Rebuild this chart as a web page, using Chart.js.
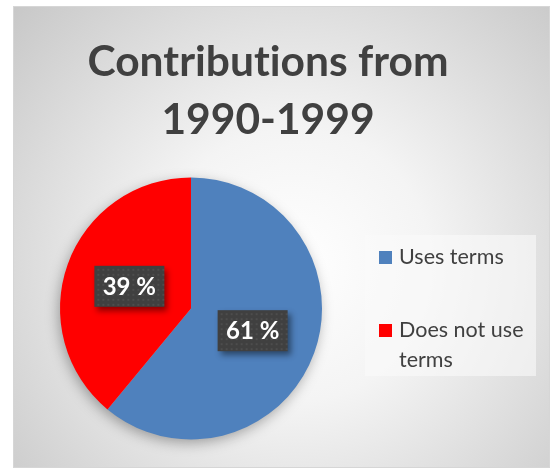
<!DOCTYPE html>
<html>
<head>
<meta charset="utf-8">
<script src="https://cdn.jsdelivr.net/npm/chart.js@4"></script>
<style>
  html, body { margin: 0; padding: 0; background: #fff; }
  #wrap { width: 550px; height: 470px; }
</style>
</head>
<body>
<div id="wrap"><canvas id="pie" width="550" height="470"></canvas></div>
<script>
const titleLines = ["Contributions from", "1990-1999"];
const categories = ["Uses terms", "Does not use terms"];
const legendLines = [["Uses terms"], ["Does not use", "terms"]];
const values = [61, 39];
const colors = ["#4F81BD", "#FF0000"];

const TEXT = "#404040";

// gray frame with a soft radial fill behind everything
const backdrop = {
  id: "backdrop",
  beforeDraw(chart) {
    const ctx = chart.ctx;
    ctx.save();
    ctx.fillStyle = "#fff";
    ctx.fillRect(0, 0, chart.width, chart.height);
    const g = ctx.createRadialGradient(295, 265, 0, 295, 265, 390);
    g.addColorStop(0, "#ffffff");
    g.addColorStop(0.35, "#f4f4f4");
    g.addColorStop(1, "#c6c6c6");
    ctx.fillStyle = g;
    ctx.fillRect(13, 6, 537, 462);
    ctx.strokeStyle = "#d6d6d6";
    ctx.lineWidth = 1;
    ctx.strokeRect(13.5, 6.5, 536, 461);
    // legend panel
    ctx.fillStyle = "rgba(250,250,250,0.6)";
    ctx.fillRect(365, 235, 171, 141);
    ctx.restore();
  }
};

// soft shadow under the pie
const pieShadow = {
  id: "pieShadow",
  beforeDatasetsDraw(chart) {
    const arc = chart.getDatasetMeta(0).data[0];
    if (!arc) return;
    const ctx = chart.ctx;
    ctx.save();
    ctx.shadowColor = "rgba(0,0,0,0.35)";
    ctx.shadowBlur = 14;
    ctx.shadowOffsetX = -2;
    ctx.shadowOffsetY = 4;
    ctx.fillStyle = "#bbb";
    ctx.beginPath();
    ctx.arc(arc.x, arc.y, arc.outerRadius - 1, 0, Math.PI * 2);
    ctx.fill();
    ctx.restore();
  }
};

// dark value boxes at each slice centre
const valueBoxes = {
  id: "valueBoxes",
  afterDatasetsDraw(chart) {
    const ctx = chart.ctx;
    const meta = chart.getDatasetMeta(0);
    meta.data.forEach((arc, i) => {
      const p = arc.getCenterPoint();
      const w = 70, h = 41;
      ctx.save();
      ctx.shadowColor = "rgba(0,0,0,0.45)";
      ctx.shadowBlur = 6;
      ctx.shadowOffsetX = 3;
      ctx.shadowOffsetY = 4;
      ctx.fillStyle = "#404040";
      ctx.fillRect(p.x - w / 2, p.y - h / 2, w, h);
      ctx.restore();
      // faint dot texture
      ctx.save();
      ctx.fillStyle = "rgba(255,255,255,0.07)";
      for (let yy = p.y - h / 2 + 3; yy < p.y + h / 2 - 1; yy += 5) {
        for (let xx = p.x - w / 2 + 3; xx < p.x + w / 2 - 1; xx += 5) {
          ctx.fillRect(xx, yy, 2, 2);
        }
      }
      ctx.fillStyle = "#fff";
      ctx.font = "bold 24px Lato";
      ctx.textAlign = "center";
      ctx.textBaseline = "middle";
      ctx.fillText(values[i] + " %", p.x, p.y + 1);
      ctx.restore();
    });
  }
};

// title and a wrapped legend on the right
const captions = {
  id: "captions",
  afterDraw(chart) {
    const ctx = chart.ctx;
    ctx.save();
    ctx.fillStyle = TEXT;
    ctx.textAlign = "center";
    ctx.textBaseline = "alphabetic";
    ctx.letterSpacing = "0.01px"; // keeps "ti" from joining into a ligature
    ctx.font = "bold 42.5px Lato";
    ctx.fillText(titleLines[0], 268, 76);
    ctx.fillText(titleLines[1], 268, 134);

    ctx.textAlign = "left";
    ctx.font = "21.5px Lato";
    const tops = [251, 324];
    legendLines.forEach((lines, i) => {
      const meta = chart.getDatasetMeta(0);
      ctx.fillStyle = meta.data[i].options.backgroundColor;
      ctx.fillRect(379, tops[i], 13, 13);
      ctx.fillStyle = TEXT;
      lines.forEach((t, k) => ctx.fillText(t, 399, tops[i] + 13 + k * 30));
    });
    ctx.restore();
  }
};

new Chart(document.getElementById("pie"), {
  type: "pie",
  data: {
    labels: categories,
    datasets: [{
      data: values,
      backgroundColor: colors,
      borderWidth: 0
    }]
  },
  options: {
    responsive: false,
    animation: false,
    layout: { padding: { left: 60, top: 177, right: 228, bottom: 30 } },
    plugins: {
      legend: { display: false },
      title: { display: false },
      tooltip: { enabled: false }
    }
  },
  plugins: [backdrop, pieShadow, valueBoxes, captions]
});
</script>
</body>
</html>
